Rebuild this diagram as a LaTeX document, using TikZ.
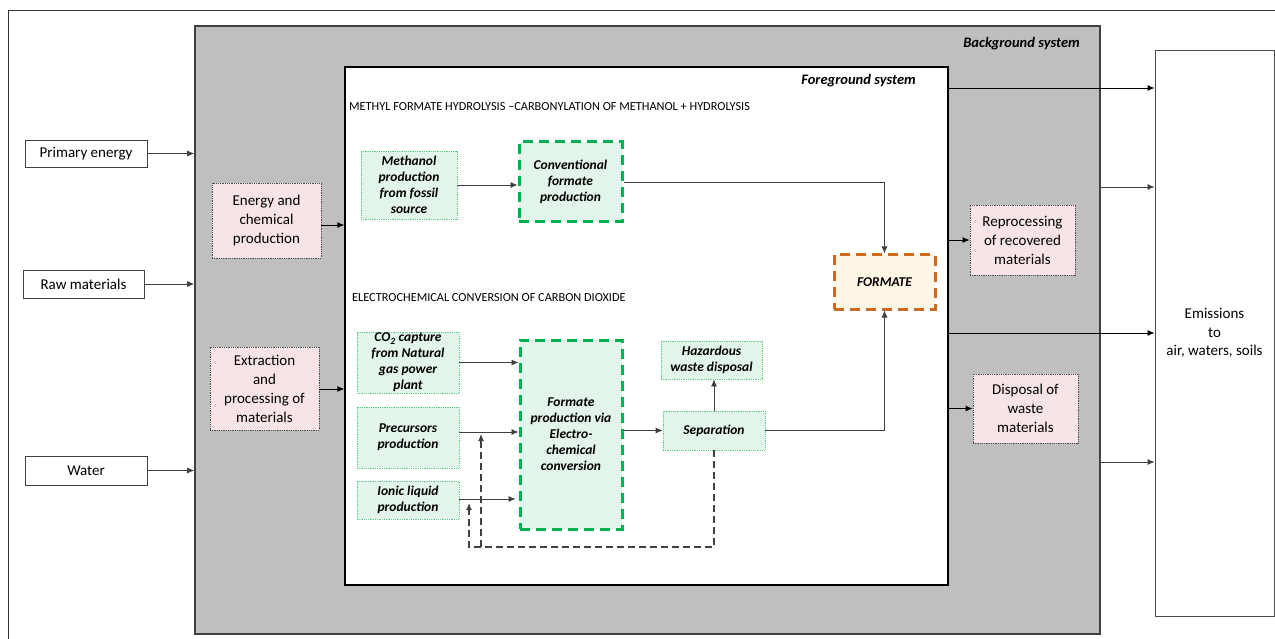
\documentclass[tikz,border=0pt]{standalone}
\usepackage{fontspec}
\setmainfont{Carlito}
\usetikzlibrary{arrows.meta}
\definecolor{bggray}{HTML}{BFBFBF}
\definecolor{pinkfill}{HTML}{F8E4E6}
\definecolor{greenfill}{HTML}{E3F4EA}
\definecolor{gdot}{HTML}{5CCB84}
\definecolor{gdash}{HTML}{00B050}
\definecolor{odash}{HTML}{CC6A1E}
\definecolor{ofill}{HTML}{FFF6E6}
\definecolor{linegray}{HTML}{404040}
\tikzset{
  lbl/.style={font=\fontsize{15}{19}\selectfont, align=center, inner sep=1pt},
  inbox/.style={draw=black!75, line width=0.8pt, fill=white, lbl},
  pinkbox/.style={draw=black!70, line width=0.8pt, densely dotted, fill=pinkfill, lbl},
  gtext/.style={font=\fontsize{13.5}{16}\selectfont\bfseries\itshape, align=center, inner sep=1pt},
  gbox/.style={draw=gdot, line width=0.8pt, densely dotted, fill=greenfill, gtext},
  gthick/.style={draw=gdash, line width=3pt, dash pattern=on 10pt off 6pt, fill=greenfill, gtext},
  othick/.style={draw=odash, line width=3pt, dash pattern=on 10pt off 6pt, fill=ofill, gtext},
  arr/.style={-{Latex[length=7pt,width=6pt]}, draw=linegray, line width=0.8pt},
  karr/.style={-{Latex[length=7pt,width=6pt]}, draw=black, line width=0.9pt},
  fbarr/.style={-{Latex[length=7pt,width=6pt]}, draw=linegray, line width=1.1pt, dash pattern=on 7pt off 4pt},
  hdr/.style={font=\fontsize{12.3}{14}\selectfont, inner sep=0pt, anchor=west},
  sys/.style={font=\fontsize{14.5}{17}\selectfont\bfseries\itshape, inner sep=0pt, anchor=east},
}
\begin{document}
\begin{tikzpicture}[x=1pt,y=-1pt]
\useasboundingbox (0,0) rectangle (1275,639);
\fill[white] (0,0) rectangle (1275,639);
% outer frame
\draw[black!80, line width=0.8pt] (8,645) -- (8,10) -- (1285,10);
% background system
\node[draw=linegray, line width=1.6pt, fill=bggray, minimum width=905pt, minimum height=608pt, inner sep=0pt] (bg) at (647.5,330) {};
\node[sys] (bgl) at (1080,44) {Background system};
% foreground system
\node[draw=black, line width=1.2pt, fill=white, minimum width=603pt, minimum height=518pt, inner sep=0pt] (fg) at (646.5,326) {};
\node[sys] (fgl) at (916,81) {Foreground system};
\node[hdr] (h1) at (349,107) {METHYL FORMATE HYDROLYSIS \textendash CARBONYLATION OF METHANOL + HYDROLYSIS};
\node[hdr] (h2) at (352,298) {ELECTROCHEMICAL CONVERSION OF CARBON DIOXIDE};
% inputs
\node[inbox, minimum width=122pt, minimum height=27pt] (prim) at (86,153.5) {Primary energy};
\node[inbox, minimum width=121pt, minimum height=28pt] (raw) at (83.5,284) {Raw materials};
\node[inbox, minimum width=122pt, minimum height=29pt] (water) at (86,470.5) {Water};
% pink boxes
\node[pinkbox, minimum width=109pt, minimum height=75pt] (energy) at (266.5,220.5) {Energy and\\chemical\\production};
\node[pinkbox, minimum width=109pt, minimum height=83pt] (extract) at (264.5,388.5) {Extraction\\and\\processing of\\materials};
\node[pinkbox, minimum width=105pt, minimum height=70pt] (reproc) at (1022.5,240) {Reprocessing\\of recovered\\materials};
\node[pinkbox, minimum width=105pt, minimum height=69pt] (disp) at (1025.5,408.5) {Disposal of\\waste\\materials};
% emissions
\node[draw=black!70, line width=0.8pt, fill=white, lbl, font=\fontsize{15}{18.5}\selectfont, minimum width=119pt, minimum height=566pt] (emis) at (1214.5,333) {Emissions\\to\\air, waters, soils};
% green boxes
\node[gbox, minimum width=96pt, minimum height=68pt] (meth) at (409,185) {Methanol\\production\\from fossil\\source};
\node[gthick, minimum width=103pt, minimum height=80pt] (conv) at (570.5,182) {Conventional\\formate\\production};
\node[othick, minimum width=101pt, minimum height=54pt] (formate) at (884.5,282) {FORMATE};
\node[gbox, minimum width=102pt, minimum height=61pt] (co2) at (408,362.5) {CO\textsubscript{2} capture\\from Natural\\gas power\\plant};
\node[gbox, minimum width=102pt, minimum height=61pt] (prec) at (408,437.5) {Precursors\\production};
\node[gbox, minimum width=102pt, minimum height=38pt] (ionic) at (408,500) {Ionic liquid\\production};
\node[gthick, minimum width=102pt, minimum height=189pt] (ec) at (571,434.5) {Formate\\production via\\Electro-\\chemical\\conversion};
\node[gbox, minimum width=101pt, minimum height=38pt] (haz) at (711.5,360) {Hazardous\\waste disposal};
\node[gbox, minimum width=102pt, minimum height=39pt] (sep) at (714,430.5) {Separation};
% input arrows
\draw[arr] (prim.east) -- (bg.west |- prim.east);
\draw[arr] (raw.east) -- (bg.west |- raw.east);
\draw[arr] (water.east) -- (bg.west |- water.east);
\draw[karr] (energy.east |- 0,225) -- (fg.west |- 0,225);
\draw[karr] (extract.east |- 0,389) -- (fg.west |- 0,389);
\draw[karr] (fg.east |- reproc.west) -- (reproc.west);
\draw[karr] (fg.east |- disp.west) -- (disp.west);
% emissions arrows
\draw[karr] (fg.east |- 0,88) -- (emis.west |- 0,88);
\draw[arr] (bg.east |- 0,187) -- (emis.west |- 0,187);
\draw[karr] (fg.east |- 0,333) -- (emis.west |- 0,333);
\draw[arr] (bg.east |- 0,462) -- (emis.west |- 0,462);
% internal arrows
\draw[arr] (meth.east) -- (conv.west |- meth.east);
\draw[arr] (conv.east) -| (formate.north);
\draw[arr] (co2.east) -- (ec.west |- co2.east);
\draw[arr] (prec.east |- 0,432) -- (ec.west |- 0,432);
\draw[arr] (ionic.east |- 0,499) -- ([xshift=-3pt]ec.west |- 0,499);
\draw[arr] (ec.east |- sep.west) -- (sep.west);
\draw[arr] (sep.north) -- (sep.north |- haz.south);
\draw[arr] (sep.east) -| (formate.south);
% feedback
\coordinate (fbL) at (469,547);
\coordinate (fbR) at (481,547);
\draw[fbarr] (sep.south) |- (fbL) -- (469,503);
\draw[fbarr] (fbR) -- (481,434);
\end{tikzpicture}
\end{document}
